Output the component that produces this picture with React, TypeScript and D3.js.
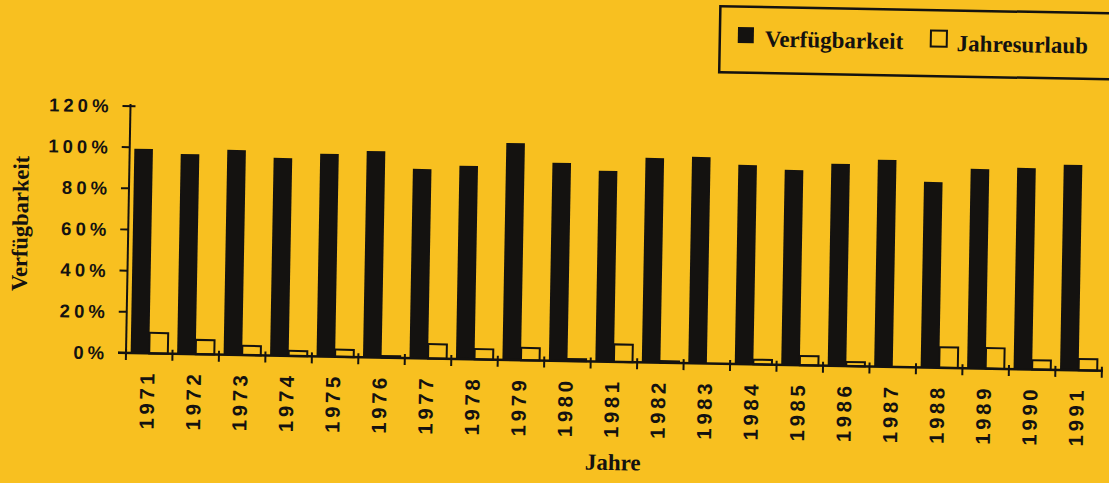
import { useEffect } from 'react'
import * as d3 from 'd3'

// Verfügbarkeit vs. Jahresurlaub, 1971–1991 (values in %)
const years = ['1971', '1972', '1973', '1974', '1975', '1976', '1977', '1978', '1979', '1980',
  '1981', '1982', '1983', '1984', '1985', '1986', '1987', '1988', '1989', '1990', '1991']
const verfuegbarkeit = [99.3, 97.2, 99.6, 96.1, 98.5, 100.3, 92.0, 93.9, 105.4, 96.2,
  92.7, 99.4, 100.3, 96.8, 94.8, 98.2, 100.5, 90.2, 96.9, 97.8, 99.7]
const jahresurlaub = [10, 7, 4.5, 2.5, 3.5, 0.8, 7, 5, 6, 1,
  8.5, 0.8, 0, 2.3, 4.5, 2, 0, 10, 10, 4.5, 5.5]
const seriesNames = ['Verfügbarkeit', 'Jahresurlaub']
const yTicks = [0, 20, 40, 60, 80, 100, 120]

const W = 1109
const H = 483
const BG = '#f8c020'
const INK = '#141210'
const SERIF = '"Liberation Serif", "DejaVu Serif", serif'
const SANS = '"Liberation Sans", Arial, sans-serif'

// the scan is slightly tilted, pivot at the axis origin
const TILT = 1.04
const ORIGIN = { x: 126, y: 353 }

export default function App() {
  useEffect(() => {
    document.body.style.margin = '0'
    document.body.style.background = BG
  }, [])

  const x = d3.scaleBand<string>().domain(years).range([ORIGIN.x, 1102])
  const xs = d3.scaleBand<string>().domain(seriesNames)
    .range([x.bandwidth() * 0.1, x.bandwidth() * 0.9])
  const y = d3.scaleLinear().domain([0, 120]).range([ORIGIN.y, 106])

  const boundaries = d3.range(years.length + 1).map((i) => ORIGIN.x + i * x.step())

  return (
    <svg width={W} height={H} style={{ display: 'block', background: BG }}>
      <g transform={`rotate(${TILT}, ${ORIGIN.x}, ${ORIGIN.y})`}>
        {/* bars */}
        {years.map((yr, i) => (
          <g key={yr} transform={`translate(${x(yr)},0)`}>
            <rect
              x={xs('Verfügbarkeit')}
              y={y(verfuegbarkeit[i])}
              width={xs.bandwidth()}
              height={y(0) - y(verfuegbarkeit[i])}
              fill={INK}
            />
            <rect
              x={xs('Jahresurlaub')}
              y={y(jahresurlaub[i])}
              width={xs.bandwidth()}
              height={y(0) - y(jahresurlaub[i])}
              fill="none"
              stroke={INK}
              strokeWidth={2}
            />
          </g>
        ))}

        {/* y axis */}
        <line x1={ORIGIN.x} x2={ORIGIN.x} y1={y(120) - 2} y2={ORIGIN.y + 2} stroke={INK} strokeWidth={2} />
        {yTicks.map((t) => (
          <g key={t}>
            <line x1={ORIGIN.x - 8} x2={t === 120 ? ORIGIN.x + 5 : ORIGIN.x} y1={y(t)} y2={y(t)} stroke={INK} strokeWidth={2} />
            <text
              x={108}
              y={y(t)}
              dy="0.36em"
              textAnchor="end"
              fontFamily={SANS}
              fontWeight="bold"
              fontSize={18.5}
              letterSpacing={4}
              fill={INK}
            >
              {t}%
            </text>
          </g>
        ))}

        {/* x axis */}
        <line x1={ORIGIN.x - 8} x2={1103} y1={ORIGIN.y} y2={ORIGIN.y} stroke={INK} strokeWidth={2.5} />
        {boundaries.map((bx, i) => (
          <line key={i} x1={bx} x2={bx} y1={ORIGIN.y - 4} y2={ORIGIN.y + 7} stroke={INK} strokeWidth={2} />
        ))}
        {years.map((yr) => {
          const cx = (x(yr) ?? 0) + x.bandwidth() / 2 - 1.8
          const cy = ORIGIN.y + 16.5
          return (
            <text
              key={yr}
              x={cx}
              y={cy}
              dy="0.36em"
              textAnchor="end"
              transform={`rotate(-90, ${cx}, ${cy})`}
              fontFamily={SANS}
              fontWeight="bold"
              fontSize={20.5}
              letterSpacing={3.5}
              fill={INK}
            >
              {yr}
            </text>
          )
        })}

        {/* axis titles */}
        <text
          x={17.6}
          y={225.4}
          dy="0.35em"
          textAnchor="middle"
          transform="rotate(-90, 17.6, 225.4)"
          fontFamily={SERIF}
          fontWeight="bold"
          fontSize={22.5}
          fill={INK}
        >
          Verfügbarkeit
        </text>
        <text x={614.6} y={461.2} textAnchor="middle" fontFamily={SERIF} fontWeight="bold" fontSize={23} fill={INK}>
          Jahre
        </text>

        {/* legend */}
        <rect x={714} y={-4.5} width={420} height={66} fill="none" stroke={INK} strokeWidth={2.5} />
        <rect x={732} y={16} width={16} height={16} fill={INK} />
        <text x={759} y={35} fontFamily={SERIF} fontWeight="bold" fontSize={23} fill={INK}>
          {seriesNames[0]}
        </text>
        <rect x={925} y={16} width={16} height={16} fill="none" stroke={INK} strokeWidth={2} />
        <text x={951} y={36} fontFamily={SERIF} fontWeight="bold" fontSize={23} fill={INK}>
          {seriesNames[1]}
        </text>
      </g>
    </svg>
  )
}
